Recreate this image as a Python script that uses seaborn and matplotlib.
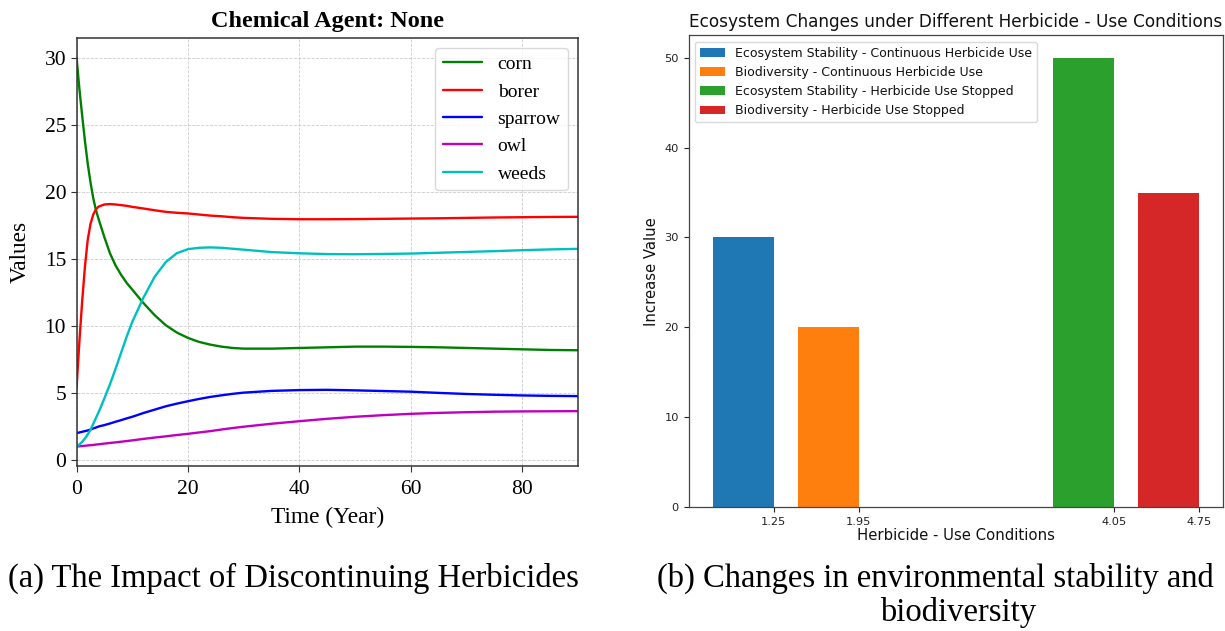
import numpy as np
import pandas as pd
import matplotlib
matplotlib.use("Agg")
import matplotlib.pyplot as plt
import seaborn as sns

# ---- panel (a): population dynamics without a chemical agent ----
years = [0, 0.5, 1, 1.5, 2, 2.5, 3, 3.5, 4, 5, 6, 7, 8, 9, 10, 12, 14, 16, 18, 20,
         22, 24, 26, 28, 30, 35, 40, 45, 50, 55, 60, 65, 70, 75, 80, 85, 90]
corn = [30, 27.7, 25.7, 23.8, 22.1, 20.7, 19.5, 18.6, 17.9, 16.6, 15.4, 14.5, 13.8,
        13.2, 12.7, 11.7, 10.8, 10.05, 9.5, 9.1, 8.8, 8.6, 8.45, 8.35, 8.3, 8.3, 8.35,
        8.4, 8.45, 8.45, 8.43, 8.4, 8.35, 8.3, 8.25, 8.2, 8.18]
borer = [5.4, 8.8, 11.8, 14.4, 16.4, 17.6, 18.3, 18.7, 18.9, 19.05, 19.08, 19.05, 19.0,
         18.95, 18.87, 18.75, 18.62, 18.5, 18.43, 18.38, 18.3, 18.22, 18.17, 18.1, 18.05,
         17.98, 17.95, 17.95, 17.96, 17.98, 18.0, 18.02, 18.05, 18.08, 18.1, 18.12, 18.13]
sparrow = [2.0, 2.05, 2.1, 2.15, 2.2, 2.27, 2.35, 2.42, 2.5, 2.6, 2.72, 2.85, 2.97, 3.1,
           3.22, 3.5, 3.75, 4.0, 4.2, 4.38, 4.55, 4.7, 4.82, 4.93, 5.02, 5.15, 5.21, 5.23,
           5.19, 5.14, 5.09, 5.0, 4.92, 4.86, 4.81, 4.78, 4.76]
owl = [1.0, 1.02, 1.04, 1.06, 1.08, 1.1, 1.12, 1.15, 1.17, 1.22, 1.27, 1.31, 1.36, 1.41,
       1.46, 1.57, 1.67, 1.76, 1.86, 1.95, 2.05, 2.15, 2.27, 2.38, 2.48, 2.7, 2.89, 3.07,
       3.22, 3.34, 3.44, 3.51, 3.56, 3.6, 3.62, 3.63, 3.64]
weeds = [1.0, 1.15, 1.35, 1.6, 1.9, 2.25, 2.7, 3.15, 3.6, 4.6, 5.65, 6.8, 8.0, 9.2, 10.3,
         12.1, 13.65, 14.75, 15.42, 15.72, 15.82, 15.85, 15.82, 15.75, 15.68, 15.5, 15.41,
         15.35, 15.34, 15.36, 15.39, 15.45, 15.51, 15.57, 15.64, 15.7, 15.74]
species = ["corn", "borer", "sparrow", "owl", "weeds"]
species_colors = ["g", "r", "b", "m", "c"]

# ---- panel (b): ecosystem changes under herbicide use ----
conditions = ["Ecosystem Stability - Continuous Herbicide Use",
              "Biodiversity - Continuous Herbicide Use",
              "Ecosystem Stability - Herbicide Use Stopped",
              "Biodiversity - Herbicide Use Stopped"]
increase = [30, 20, 50, 35]
bar_centers = [1.0, 1.7, 3.8, 4.5]
tick_positions = [1.25, 1.95, 4.05, 4.75]
tick_labels = ["1.25", "1.95", "4.05", "4.75"]
bar_colors = ["#1f77b4", "#ff7f0e", "#2ca02c", "#d62728"]

sns.set_style("ticks")
plt.rcParams["font.family"] = ["DejaVu Sans"]
plt.rcParams.update({"text.color": "#111111", "axes.labelcolor": "#111111",
                     "xtick.color": "#222222", "ytick.color": "#222222"})

fig = plt.figure(figsize=(12.25, 6.31), dpi=100)
ax1 = fig.add_axes([0.0625, 0.2615, 0.4094, 0.678])
ax2 = fig.add_axes([0.5622, 0.1965, 0.4362, 0.7475])

serif = ["Liberation Serif", "DejaVu Serif"]

# -- line panel --
long_df = pd.DataFrame({
    "Year": np.tile(years, len(species)),
    "Value": np.concatenate([corn, borer, sparrow, owl, weeds]),
    "Species": np.repeat(species, len(years)),
})
sns.lineplot(data=long_df, x="Year", y="Value", hue="Species", hue_order=species,
             palette=dict(zip(species, species_colors)), estimator=None,
             linewidth=1.7, ax=ax1)
ax1.set_xlim(0, 90)
ax1.set_xticks([0, 20, 40, 60, 80])
ax1.set_yticks([0, 5, 10, 15, 20, 25, 30])
ax1.grid(True, linestyle="--", color="#c0c0c0", linewidth=0.6, alpha=0.8)
for s in ax1.spines.values():
    s.set_color("#333333")
    s.set_linewidth(1.1)
ax1.tick_params(axis="both", labelsize=15.5, length=4, color="#333333",
                labelcolor="black")
ax1.tick_params(axis="x", pad=6)
for lbl in ax1.get_xticklabels() + ax1.get_yticklabels():
    lbl.set_family(serif)
ax1.set_xlabel("Time (Year)", family=serif, fontsize=16.8, labelpad=6, color="black")
ax1.set_ylabel("Values", family=serif, fontsize=16.8, labelpad=10, color="black")
ax1.set_title("Chemical Agent: None", family=serif, fontsize=17.5,
              fontweight="bold", pad=8, color="black")
leg1 = ax1.legend(loc="upper right", prop={"family": serif, "size": 14},
                  frameon=True, fancybox=True, framealpha=0.8, edgecolor="#d0d0d0",
                  labelcolor="black")
for line in leg1.get_lines():
    line.set_linewidth(1.7)

# -- bar panel --
bar_df = pd.DataFrame({"Position": bar_centers, "Increase": increase,
                       "Condition": conditions})
spacing = min(np.diff(sorted(bar_centers)))
sns.barplot(data=bar_df, x="Position", y="Increase", hue="Condition",
            hue_order=conditions, palette=dict(zip(conditions, bar_colors)),
            native_scale=True, dodge=False, width=0.5 / spacing, saturation=1,
            errorbar=None, linewidth=0, ax=ax2)
ax2.set_xlim(0.55, 4.95)
ax2.set_xticks(tick_positions)
ax2.set_xticklabels(tick_labels)
ax2.tick_params(axis="both", labelsize=8.2, length=3.5, width=0.8)
for s in ax2.spines.values():
    s.set_color("#444444")
    s.set_linewidth(0.9)
ax2.set_xlabel("Herbicide - Use Conditions", fontsize=10.7, labelpad=1)
ax2.set_ylabel("Increase Value", fontsize=10.7)
ax2.set_title("Ecosystem Changes under Different Herbicide - Use Conditions",
              fontsize=12.2, pad=6)
ax2.legend(loc="upper left", fontsize=9, frameon=True, framealpha=0.8,
           edgecolor="#d0d0d0")

# -- sub-figure captions --
fig.text(293 / 1225, 1 - 578 / 631, "(a) The Impact of Discontinuing Herbicides",
         family=serif, fontsize=23.5, ha="center", va="center", color="black")
fig.text(935 / 1225, 1 - 578 / 631, "(b) Changes in environmental stability and",
         family=serif, fontsize=23.5, ha="center", va="center", color="black")
fig.text(958 / 1225, 1 - 613 / 631, "biodiversity",
         family=serif, fontsize=23.5, ha="center", va="center", color="black")

fig.savefig("out.png", dpi=100)
